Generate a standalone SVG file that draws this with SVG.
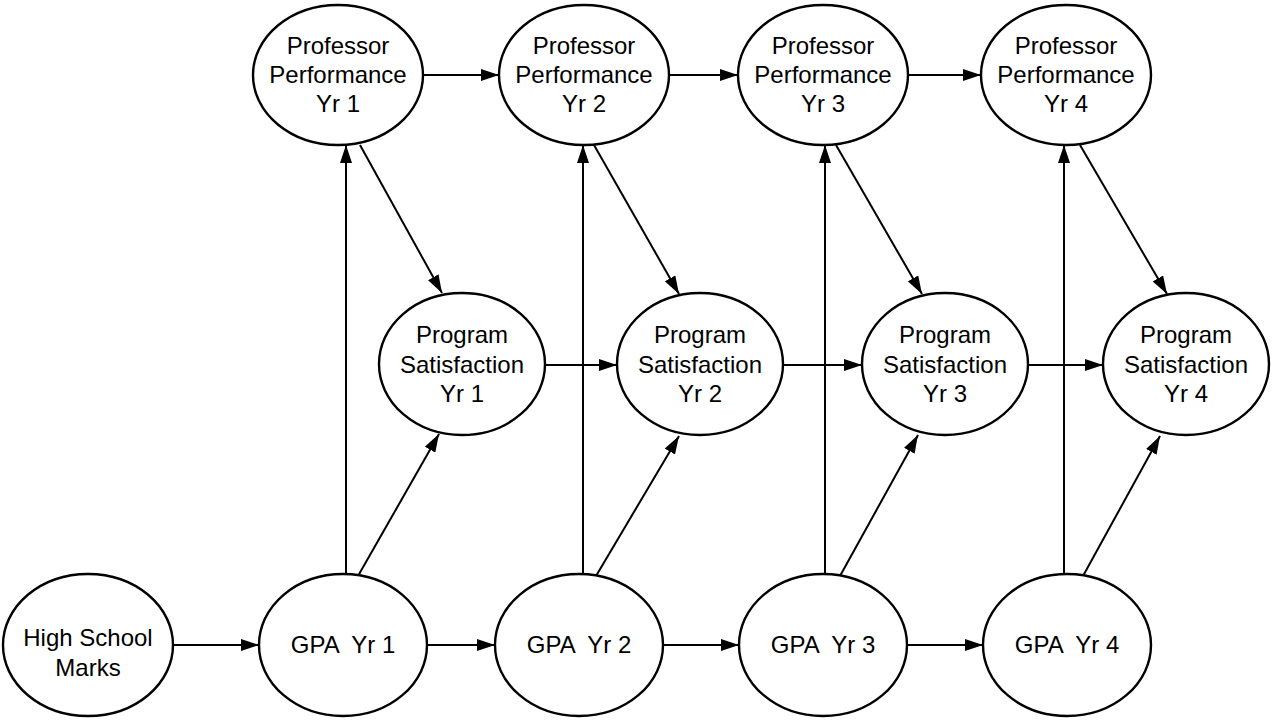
<svg xmlns="http://www.w3.org/2000/svg" width="1276" height="720" viewBox="0 0 1276 720">
<defs>
<marker id="ah" viewBox="0 0 18 12" refX="18" refY="6" markerWidth="18" markerHeight="12" markerUnits="userSpaceOnUse" orient="auto">
<path d="M0,0 L18,6 L0,12 z" fill="#000"/>
</marker>
</defs>
<style>
.n ellipse{fill:#fff;stroke:#000;stroke-width:2.4}
.n text{font-family:"Liberation Sans",Arial,sans-serif;font-size:24px;fill:#000;text-anchor:middle}
#connectors line{stroke:#000;stroke-width:2;marker-end:url(#ah)}
</style>
<rect width="1276" height="720" fill="#fff"/>
<g id="connectors">
<line x1="423" y1="75" x2="499" y2="75"/>
<line x1="669" y1="75" x2="738" y2="75"/>
<line x1="908" y1="75" x2="981" y2="75"/>
<line x1="545" y1="365" x2="617" y2="365"/>
<line x1="783" y1="365" x2="862" y2="365"/>
<line x1="1028" y1="365" x2="1103" y2="365"/>
<line x1="173" y1="645" x2="259" y2="645"/>
<line x1="427" y1="645" x2="495" y2="645"/>
<line x1="663" y1="645" x2="739" y2="645"/>
<line x1="907" y1="645" x2="983" y2="645"/>
<line x1="346" y1="574" x2="346" y2="145"/>
<line x1="583" y1="574" x2="583" y2="145"/>
<line x1="825" y1="574" x2="825" y2="145"/>
<line x1="1064" y1="574" x2="1064" y2="145"/>
<line x1="360" y1="145" x2="442" y2="293"/>
<line x1="594" y1="145" x2="679" y2="294"/>
<line x1="836" y1="145" x2="922" y2="294"/>
<line x1="1080" y1="145" x2="1167" y2="294"/>
<line x1="358" y1="576" x2="439" y2="434"/>
<line x1="596" y1="576" x2="679" y2="436"/>
<line x1="840" y1="576" x2="918" y2="435"/>
<line x1="1083" y1="576" x2="1160" y2="436"/>
</g>
<g id="prof1" class="n"><ellipse cx="338" cy="75" rx="85" ry="70"/><text x="338" y="54">Professor</text><text x="338" y="83">Performance</text><text x="338" y="112">Yr 1</text></g>
<g id="prof2" class="n"><ellipse cx="584" cy="75" rx="85" ry="70"/><text x="584" y="54">Professor</text><text x="584" y="83">Performance</text><text x="584" y="112">Yr 2</text></g>
<g id="prof3" class="n"><ellipse cx="823" cy="75" rx="85" ry="70"/><text x="823" y="54">Professor</text><text x="823" y="83">Performance</text><text x="823" y="112">Yr 3</text></g>
<g id="prof4" class="n"><ellipse cx="1066" cy="75" rx="85" ry="70"/><text x="1066" y="54">Professor</text><text x="1066" y="83">Performance</text><text x="1066" y="112">Yr 4</text></g>
<g id="sat1" class="n"><ellipse cx="462" cy="364" rx="83" ry="71"/><text x="462" y="343">Program</text><text x="462" y="373">Satisfaction</text><text x="462" y="402">Yr 1</text></g>
<g id="sat2" class="n"><ellipse cx="700" cy="364" rx="83" ry="71"/><text x="700" y="343">Program</text><text x="700" y="373">Satisfaction</text><text x="700" y="402">Yr 2</text></g>
<g id="sat3" class="n"><ellipse cx="945" cy="364" rx="83" ry="71"/><text x="945" y="343">Program</text><text x="945" y="373">Satisfaction</text><text x="945" y="402">Yr 3</text></g>
<g id="sat4" class="n"><ellipse cx="1186" cy="364" rx="83" ry="71"/><text x="1186" y="343">Program</text><text x="1186" y="373">Satisfaction</text><text x="1186" y="402">Yr 4</text></g>
<g id="hs" class="n"><ellipse cx="88" cy="645" rx="85" ry="71"/><text x="88" y="646">High School</text><text x="88" y="676">Marks</text></g>
<g id="gpa1" class="n"><ellipse cx="343" cy="645" rx="84" ry="71"/><text x="343" y="653" xml:space="preserve">GPA  Yr 1</text></g>
<g id="gpa2" class="n"><ellipse cx="579" cy="645" rx="84" ry="71"/><text x="579" y="653" xml:space="preserve">GPA  Yr 2</text></g>
<g id="gpa3" class="n"><ellipse cx="823" cy="645" rx="84" ry="71"/><text x="823" y="653" xml:space="preserve">GPA  Yr 3</text></g>
<g id="gpa4" class="n"><ellipse cx="1067" cy="645" rx="84" ry="71"/><text x="1067" y="653" xml:space="preserve">GPA  Yr 4</text></g>
</svg>
